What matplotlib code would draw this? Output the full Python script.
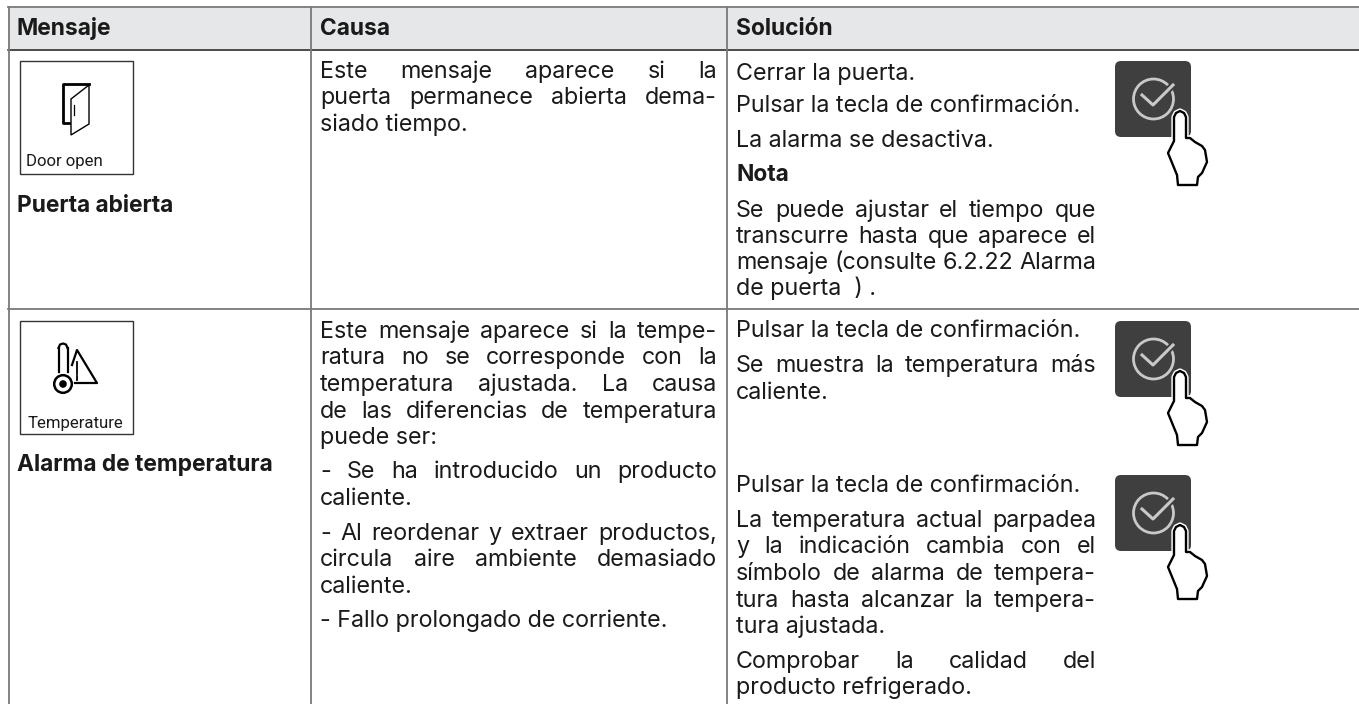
import matplotlib
matplotlib.use('Agg')
import matplotlib.pyplot as plt
from matplotlib.patches import FancyBboxPatch, Circle, Rectangle, Polygon

W, H = 1359, 704
FONT = 'Inter'
FS = 16.8
FS_BOLD = 16.4
LINE = '#7a7a7a'

headers = ['Mensaje', 'Causa', 'Solución']
msg_titles = ['Puerta abierta', 'Alarma de temperatura']
msg_icons = ['Door open', 'Temperature']

# (text, baseline y, justified)
causa_lines = [
    ('Este mensaje aparece si la', 78, True),
    ('puerta permanece abierta dema-', 104, True),
    ('siado tiempo.', 131, False),
    ('Este mensaje aparece si la tempe-', 338, True),
    ('ratura no se corresponde con la', 364, True),
    ('temperatura ajustada. La causa', 391, True),
    ('de las diferencias de temperatura', 418, True),
    ('puede ser:', 444, False),
    ('- Se ha introducido un producto', 478, True),
    ('caliente.', 505, False),
    ('- Al reordenar y extraer productos,', 540, True),
    ('circula aire ambiente demasiado', 566, True),
    ('caliente.', 593, False),
    ('- Fallo prolongado de corriente.', 627, False),
]
solucion_lines = [
    ('Cerrar la puerta.', 80, False),
    ('Pulsar la tecla de confirmación.', 112, False),
    ('La alarma se desactiva.', 147, False),
    ('Se puede ajustar el tiempo que', 217, True),
    ('transcurre hasta que aparece el', 243, True),
    ('mensaje (consulte 6.2.22 Alarma', 269, True),
    ('de puerta  ) .', 295, False),
    ('Pulsar la tecla de confirmación.', 337, False),
    ('Se muestra la temperatura más', 372, True),
    ('caliente.', 399, False),
    ('Pulsar la tecla de confirmación.', 492, False),
    ('La temperatura actual parpadea', 527, True),
    ('y la indicación cambia con el', 553, True),
    ('símbolo de alarma de tempera-', 580, True),
    ('tura hasta alcanzar la tempera-', 607, True),
    ('tura ajustada.', 633, False),
    ('Comprobar la calidad del', 668, True),
    ('producto refrigerado.', 694, False),
]

fig = plt.figure(figsize=(W / 100, H / 100), dpi=100)
ax = fig.add_axes([0, 0, 1, 1])
ax.set_xlim(0, W)
ax.set_ylim(H, 0)
ax.axis('off')
renderer = fig.canvas.get_renderer()


def put(x, y, s, **kw):
    kw.setdefault('fontsize', FS)
    kw.setdefault('family', FONT)
    kw.setdefault('color', '#1a1a1a')
    return ax.text(x, y, s, va='baseline', **kw)


def width(s):
    t = ax.text(0, 0, s, fontsize=FS, family=FONT)
    w = t.get_window_extent(renderer).width
    t.remove()
    return w


def draw_line(s, x0, x1, y, justified):
    if not justified:
        put(x0, y, s)
        return
    words = s.split()
    widths = [width(w) for w in words]
    gap = (x1 - x0 - sum(widths)) / (len(words) - 1)
    x = x0
    for w, ww in zip(words, widths):
        put(x, y, w)
        x += ww + gap


def door_icon():
    ax.plot([89, 63, 63, 69], [84, 84, 123, 123], color='k', lw=2)
    ax.add_patch(Polygon([[71, 99], [89, 85], [89, 124], [71, 135]], fill=False, ec='k', lw=1))
    ax.plot([74, 74], [105, 115], color='k', lw=0.9)


def temp_icon():
    ax.plot([58.5, 58.5], [372, 348], color='k', lw=1.6)
    ax.plot([67.5, 67.5], [372, 348], color='k', lw=1.6)
    ax.plot([58.5, 60, 63, 66, 67.5], [348, 344.5, 343.5, 344.5, 348], color='k', lw=1.6)
    ax.add_patch(Circle((63, 384), 8.8, fc='white', ec='k', lw=1.8, zorder=3))
    ax.add_patch(Circle((63, 384), 3.8, fc='k', ec='none', zorder=4))
    ax.plot([72, 77, 97, 75], [365, 350, 383, 383], color='k', lw=1.6)
    ax.plot([77, 77], [362, 374], color='k', lw=1.3)
    ax.plot([77, 77], [376, 380], color='k', lw=1.3)


def key_icon(x, y):
    ax.add_patch(FancyBboxPatch((x + 6, y + 6), 64, 64, boxstyle='round,pad=6,rounding_size=6',
                                fc='#3f3f3f', ec='none'))
    ax.add_patch(Circle((x + 38.5, y + 38), 20, fill=False, ec='#c9c9c9', lw=2))
    check = [[x + 27, y + 34], [x + 38, y + 44], [x + 58, y + 24]]
    ax.plot(*zip(*check), color='#3f3f3f', lw=5)
    ax.plot(*zip(*check), color='#c9c9c9', lw=2.2)
    hand = [[x + 59, y + 80], [x + 59, y + 56], [x + 61, y + 52], [x + 65, y + 50], [x + 69, y + 52],
            [x + 71, y + 56], [x + 71, y + 77], [x + 75, y + 77], [x + 80, y + 81], [x + 87, y + 85],
            [x + 90, y + 89], [x + 92, y + 101], [x + 87, y + 112], [x + 83, y + 116], [x + 82, y + 124],
            [x + 63, y + 124], [x + 62, y + 114], [x + 53, y + 92], [x + 59, y + 80]]
    ax.add_patch(Polygon(hand, closed=True, fc='none', ec='white', lw=3.8, joinstyle='round', zorder=4))
    ax.add_patch(Polygon(hand, closed=True, fc='white', ec='k', lw=1.7, joinstyle='round', zorder=5))


# header band and rules
ax.add_patch(Rectangle((8, 7), W - 8, 42, fc='#e6e7e8', ec='none'))
ax.plot([8, W], [7, 7], color=LINE, lw=1.3)
ax.plot([8, W], [49.5, 49.5], color='#1a1a1a', lw=1.1)
ax.plot([8, W], [309, 309], color=LINE, lw=1.3)
for x in [8.5, 311, 727]:
    ax.plot([x, x], [7, H], color=LINE, lw=1.3)

for x, s in zip([17, 320, 736], headers):
    put(x, 35, s, fontweight='bold', fontsize=FS_BOLD)

for top, icon, title, draw, xbase, ybase, ytitle in [(61, msg_icons[0], msg_titles[0], door_icon, 64, 166, 212),
                                                     (321, msg_icons[1], msg_titles[1], temp_icon, 75, 428, 471)]:
    ax.add_patch(Rectangle((19.5, top), 113, 113, fill=False, ec='#333333', lw=1))
    ax.text(xbase, ybase, icon, fontsize=12.1, family='Roboto', ha='center', va='baseline', color='#1a1a1a')
    draw()
    put(17, ytitle, title, fontweight='bold', fontsize=FS_BOLD)

for s, y, j in causa_lines:
    draw_line(s, 320, 717, y, j)
for s, y, j in solucion_lines:
    draw_line(s, 736, 1096, y, j)
put(736, 181, 'Nota', fontweight='bold', fontsize=FS_BOLD)

for top in [61, 321, 475]:
    key_icon(1115, top)

fig.savefig('out.png', dpi=100)
